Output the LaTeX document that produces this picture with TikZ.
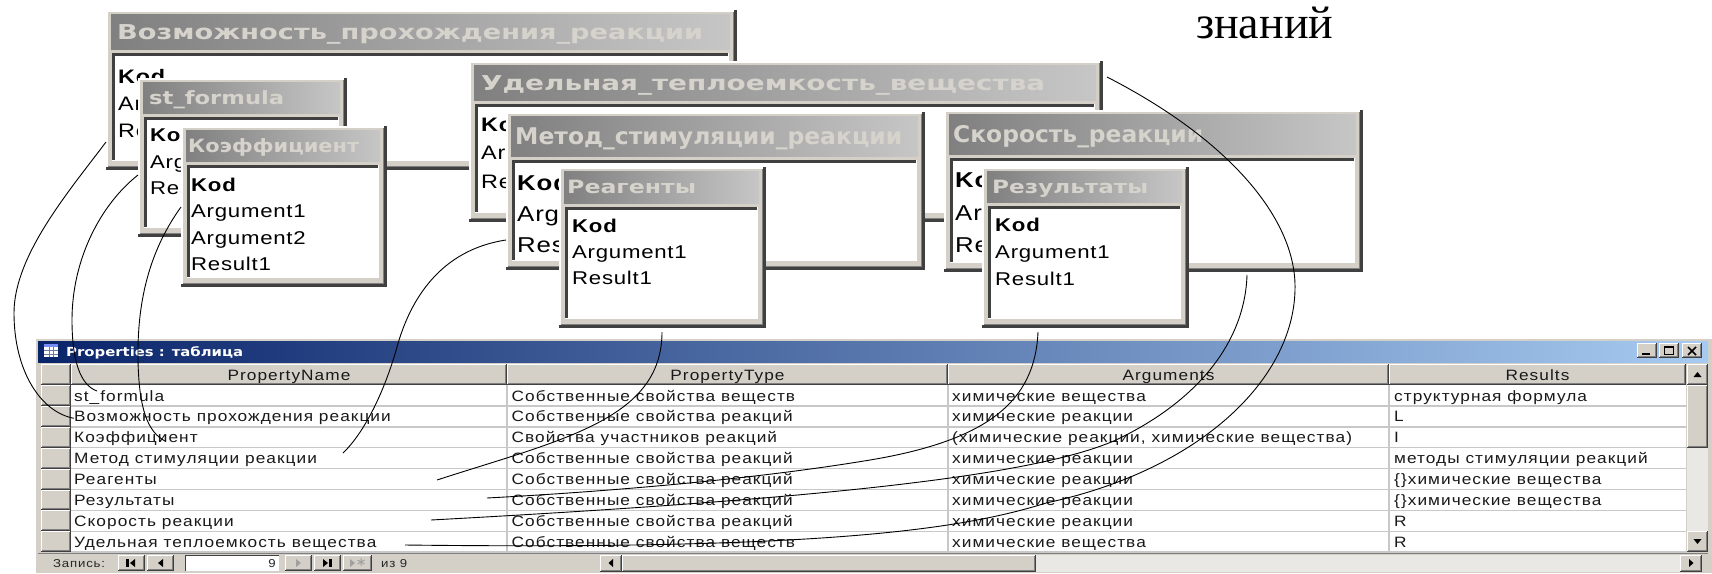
\documentclass[tikz,border=0pt]{standalone}
\usepackage{fontspec}
\usepackage{graphicx}
\setmainfont{Liberation Serif}
\newfontfamily\fldfont[FakeStretch=1.2,LetterSpace=4]{Liberation Sans}
\newfontfamily\tblfont[FakeStretch=1.15,LetterSpace=7]{Liberation Sans}
\newfontfamily\ttlfont{DejaVu Sans}

\definecolor{winface}{HTML}{D4D0C8}
\definecolor{winshadow}{HTML}{808080}
\definecolor{windark}{HTML}{404040}
\definecolor{tbdark}{HTML}{808080}
\definecolor{tblight}{HTML}{C6C6C6}
\definecolor{ttltext}{HTML}{D6D3CC}
\definecolor{navyL}{HTML}{0A246A}
\definecolor{navyR}{HTML}{A6CAF0}
\definecolor{gridline}{HTML}{C8C8C8}
\definecolor{dither}{HTML}{EAE8E4}
\definecolor{grayed}{HTML}{A0A0A0}

% field-list window: name, x0, y0, x1, y1, title bar height
\newcommand\accframe[6]{%
  \fill[winface] (#2,#3) rectangle (#4,#5);
  \draw[white,line width=1.5] (#2+0.75,#5-3) -- (#2+0.75,#3+0.75) -- (#4-3,#3+0.75);
  \draw[winshadow,line width=1] (#2+1.5,#5-3.5) -- (#4-3.5,#5-3.5) -- (#4-3.5,#3+1.5);
  \draw[windark,line width=3] (#2,#5-1.5) -- (#4-1.5,#5-1.5) -- (#4-1.5,#3);
  \shade[left color=tbdark,right color=tblight] (#2+5,#3+4) rectangle (#4-7,#3+4+#6);
  \fill[white] (#2+6,#3+#6+8) rectangle (#4-9,#5-10);
  \draw[windark,line width=2.5] (#2+7.25,#5-10) -- (#2+7.25,#3+#6+9.25) -- (#4-9,#3+#6+9.25);
  \draw[white,line width=1] (#2+6,#5-9.5) -- (#4-8.5,#5-9.5) -- (#4-8.5,#3+#6+8);
  \node[inner sep=0pt,outer sep=0pt,minimum width=#4-#2,minimum height=#5-#3,anchor=north west] (#1) at (#2,#3) {};
}
% title: name, x, baseline, width, size, text
\newcommand\acctitle[6]{%
  \node[anchor=base west,inner sep=0pt,text=ttltext] (#1) at (#2,#3)
    {\resizebox{#4pt}{\height}{\ttlfont\bfseries\fontsize{#5}{#5}\selectfont #6}};
}
% fields: prefix, x, first baseline, size, pitch, list
\newcommand\accfields[6]{%
  \foreach \fld [count=\i from 0] in {#6} {
    \node[anchor=base west,inner sep=0pt,font=\fldfont\fontsize{#4}{#4}\selectfont] (#1f\i) at (#2,#3+\i*#5) {\fld};
  }
}
% raised button: x0, y0, x1, y1
\newcommand\raised[4]{%
  \fill[winface] (#1,#2) rectangle (#3,#4);
  \draw[white,line width=1] (#1+0.5,#4-1) -- (#1+0.5,#2+0.5) -- (#3-1,#2+0.5);
  \draw[winshadow,line width=1] (#1+1,#4-1.5) -- (#3-1.5,#4-1.5) -- (#3-1.5,#2+1);
  \draw[windark,line width=1] (#1,#4-0.5) -- (#3-0.5,#4-0.5) -- (#3-0.5,#2);
}

\begin{document}
\begin{tikzpicture}[x=1pt,y=-1pt,
  tcell/.style={anchor=base west,inner sep=0pt,text=black!90,font=\tblfont\fontsize{15}{15}\selectfont},
  thead/.style={anchor=base,inner sep=0pt,text=black!90,font=\tblfont\fontsize{15}{15}\selectfont},
  navtxt/.style={anchor=base west,inner sep=0pt,text=black!85,font=\tblfont\fontsize{11.5}{11.5}\selectfont},
  link/.style={draw=black,line width=0.9pt},
  glyph/.style={fill=black},
  ghost/.style={fill=grayed}
]
\useasboundingbox (0,0) rectangle (1712,573);
\fill[white] (0,0) rectangle (1712,573);

\node[anchor=base west,inner sep=0pt,font=\fontsize{46}{46}\selectfont] (zn) at (1196,38) {знаний};

% ---- field lists ----
\accframe{b1}{106}{10}{737}{170}{35}
\acctitle{t1}{117}{39}{586}{20.5}{Возможность\_прохождения\_реакции}
\accfields{b1}{118}{83}{19.5}{27}{\textbf{Kod},Argument1,Result1}

\accframe{b2}{138}{78}{347}{237}{31}
\acctitle{t2}{149}{104}{135}{18.3}{st\_formula}
\accfields{b2}{150}{141.6}{18.5}{26.5}{\textbf{Kod},Argument1,Result1}

\accframe{b3}{181}{126}{387}{287}{31}
\acctitle{t3}{188}{152}{171}{18.3}{Коэффициент}
\accfields{b3}{191}{191.6}{18.5}{26.2}{\textbf{Kod},Argument1,Argument2,Result1}

\accframe{b4}{469}{61}{1103}{222}{35}
\acctitle{t4}{481}{90}{564}{20.5}{Удельная\_теплоемкость\_вещества}
\accfields{b4}{481}{131}{19.5}{28.5}{\textbf{Kod},Argument1,Result1}

\accframe{b5}{506}{112}{925}{270}{40}
\acctitle{t5}{515}{144.3}{387}{23}{Метод\_стимуляции\_реакции}
\accfields{b5}{517}{190.7}{21.5}{31}{\textbf{Kod},Argument1,Result1}

\accframe{b6}{559}{167}{766}{328}{32}
\acctitle{t6}{567}{193.6}{129}{18.3}{Реагенты}
\accfields{b6}{572}{232.6}{18.5}{26}{\textbf{Kod},Argument1,Result1}

\accframe{b7}{944}{110}{1363}{272}{40}
\acctitle{t7}{953}{142.3}{250}{23}{Скорость\_реакции}
\accfields{b7}{955}{187.7}{21.5}{32.5}{\textbf{Kod},Argument1,Result1}

\accframe{b8}{982}{167}{1189}{328}{31}
\acctitle{t8}{992}{193}{156}{18.3}{Результаты}
\accfields{b8}{995}{231.6}{18.5}{27}{\textbf{Kod},Argument1,Result1}

% ---- datasheet window ----
\fill[winface] (35,338) rectangle (1712,573);
\draw[white,line width=1] (35.5,573) -- (35.5,338.5) -- (1712,338.5);
\shade[left color=navyL,right color=navyR] (38,341) rectangle (1708,362);
% table icon
\fill[white] (44,344) rectangle (58,357);
\fill[navyR!70!blue] (44,344) rectangle (58,347);
\draw[navyL!60,line width=0.6] (44,350.5) -- (58,350.5) (44,354) -- (58,354) (49,347) -- (49,357) (53.5,347) -- (53.5,357);
\node[anchor=base west,inner sep=0pt,text=white] (wtitle) at (66,356)
  {\resizebox{177pt}{\height}{\ttlfont\bfseries\fontsize{12.5}{12.5}\selectfont Properties : таблица}};
% caption buttons
\raised{1637}{343}{1657}{358}
\raised{1659}{343}{1679}{358}
\raised{1682}{343}{1702}{358}
\draw[black,line width=2] (1642,354) -- (1650,354);
\draw[black,line width=1] (1664.5,346.5) rectangle (1673.5,354.5);
\draw[black,line width=2] (1664.5,347) -- (1673.5,347);
\draw[black,line width=1.7] (1688,347) -- (1696,355) (1696,347) -- (1688,355);

% header row
\raised{41}{364}{71}{385}
\raised{71}{364}{507}{385}
\raised{507}{364}{948}{385}
\raised{948}{364}{1389}{385}
\raised{1389}{364}{1686}{385}
\node[thead] (hpn) at (289,380.5) {PropertyName};
\node[thead] (hpt) at (727.5,380.5) {PropertyType};
\node[thead] (har) at (1168.5,380.5) {Arguments};
\node[thead] (hrs) at (1537.5,380.5) {Results};

% data rows
\fill[white] (71,385) rectangle (1686,552);
\foreach \k in {1,...,8} \draw[gridline,line width=1.5] (71,385+20.9*\k) -- (1686,385+20.9*\k);
\foreach \xx in {507,948,1389} \draw[gridline,line width=1.5] (\xx,385) -- (\xx,552);
\foreach \k in {0,...,7} {
  \pgfmathsetmacro\ya{385+20.9*\k}
  \pgfmathsetmacro\yb{\ya+20.9}
  \raised{41}{\ya}{71}{\yb}
}
\foreach \pn/\pt/\ar/\rs [count=\k] in {
  st\_formula/Собственные свойства веществ/химические вещества/структурная формула,
  Возможность прохождения реакции/Собственные свойства реакций/химические реакции/L,
  Коэффициент/Свойства участников реакций/{(химические реакции, химические вещества)}/I,
  Метод стимуляции реакции/Собственные свойства реакций/химические реакции/методы стимуляции реакций,
  Реагенты/Собственные свойства реакций/химические реакции/\{\}химические вещества,
  Результаты/Собственные свойства реакций/химические реакции/\{\}химические вещества,
  Скорость реакции/Собственные свойства реакций/химические реакции/R,
  Удельная теплоемкость вещества/Собственные свойства веществ/химические вещества/R} {
  \pgfmathsetmacro\yb{401+20.9*(\k-1)}
  \node[tcell] (pn\k) at (74,\yb) {\pn};
  \node[tcell] (pt\k) at (511.5,\yb) {\pt};
  \node[tcell] (ar\k) at (952,\yb) {\ar};
  \node[tcell] (rs\k) at (1394,\yb) {\rs};
}

% vertical scroll bar
\raised{1687}{364}{1708}{385}
\fill[black] (1693.5,377) -- (1701.5,377) -- (1697.5,372) -- cycle;
\raised{1687}{385}{1708}{448}
\fill[dither] (1687,448) rectangle (1708,531);
\raised{1687}{531}{1708}{552}
\fill[black] (1693.5,539) -- (1701.5,539) -- (1697.5,544) -- cycle;

% navigation bar
\draw[winshadow,line width=1] (38,553) -- (1708,553);
\node[navtxt] (zap) at (53,567.5) {Запись:};
\raised{118}{555}{145}{571}
\raised{147}{555}{174}{571}
\fill[white] (185,555) rectangle (279,571);
\draw[windark,line width=1] (185.5,571) -- (185.5,555.5) -- (279,555.5);
\node[navtxt,anchor=base east] (recno) at (276,567.5) {9};
\raised{285}{555}{312}{571}
\raised{314}{555}{341}{571}
\raised{343}{555}{372}{571}
\node[navtxt] (recof) at (381,567.5) {из 9};
\fill[glyph] (126,559) rectangle (128.5,567);
\fill[glyph] (135,559) -- (135,567) -- (130,563) -- cycle;
\fill[glyph] (163,559) -- (163,567) -- (158,563) -- cycle;
\fill[ghost] (296,559) -- (296,567) -- (301,563) -- cycle;
\fill[glyph] (323,559) -- (323,567) -- (328,563) -- cycle;
\fill[glyph] (329,559) rectangle (331.5,567);
\fill[ghost] (350,559) -- (350,567) -- (355,563) -- cycle;
\draw[grayed,line width=1] (361,558) -- (361,566) (357.5,560) -- (364.5,564) (357.5,564) -- (364.5,560);
% horizontal scroll bar
\raised{600}{555}{622}{572}
\fill[black] (613,559) -- (613,567) -- (608.5,563) -- cycle;
\raised{622}{555}{1036}{572}
\fill[dither] (1036,555) rectangle (1680,572);
\raised{1680}{555}{1702}{572}
\fill[black] (1689,559) -- (1689,567) -- (1693.5,563) -- cycle;

% ---- links from field lists to table rows ----
\coordinate (stEnd) at (97,391);
\coordinate (koEnd) at (165,441);
\coordinate (meEnd) at (343,453);
\coordinate (reStart) at (662,332);
\coordinate (reEnd) at (437,480);
\coordinate (rzStart) at (1038,332);
\coordinate (rzEnd) at (487,498);
\coordinate (skStart) at (1247,275);
\coordinate (skEnd) at (431,520);
\coordinate (udStart) at (1107,77);
\coordinate (udEnd) at (405,545);

\draw[link] (b1.west |- 0,142) .. controls (70,190) and (14,255) .. (14,313)
  .. controls (14,370) and (40,412) .. (pn2.west);
\draw[link] (b2.west |- 0,175) .. controls (100,205) and (72,260) .. (72,320)
  .. controls (72,360) and (80,385) .. (stEnd);
\draw[link] (b3.west |- 0,207) .. controls (150,250) and (137,300) .. (138,360)
  .. controls (139,410) and (148,432) .. (koEnd);
\draw[link] (b5.west |- 0,240) .. controls (440,250) and (410,300) .. (397,347)
  .. controls (385,390) and (365,432) .. (meEnd);
\draw[link] (reStart) .. controls (662,420) and (560,440) .. (reEnd);
\draw[link] (rzStart) .. controls (1035,400) and (990,440) .. (870,460)
  .. controls (750,480) and (600,492) .. (rzEnd);
\draw[link] (skStart) .. controls (1245,340) and (1200,400) .. (1116,440)
  .. controls (1030,478) and (800,500) .. (skEnd);
\draw[link] (udStart) .. controls (1230,140) and (1297,220) .. (1295,290)
  .. controls (1293,380) and (1200,470) .. (1046,503)
  .. controls (960,530) and (820,550) .. (udEnd);
\end{tikzpicture}
\end{document}
